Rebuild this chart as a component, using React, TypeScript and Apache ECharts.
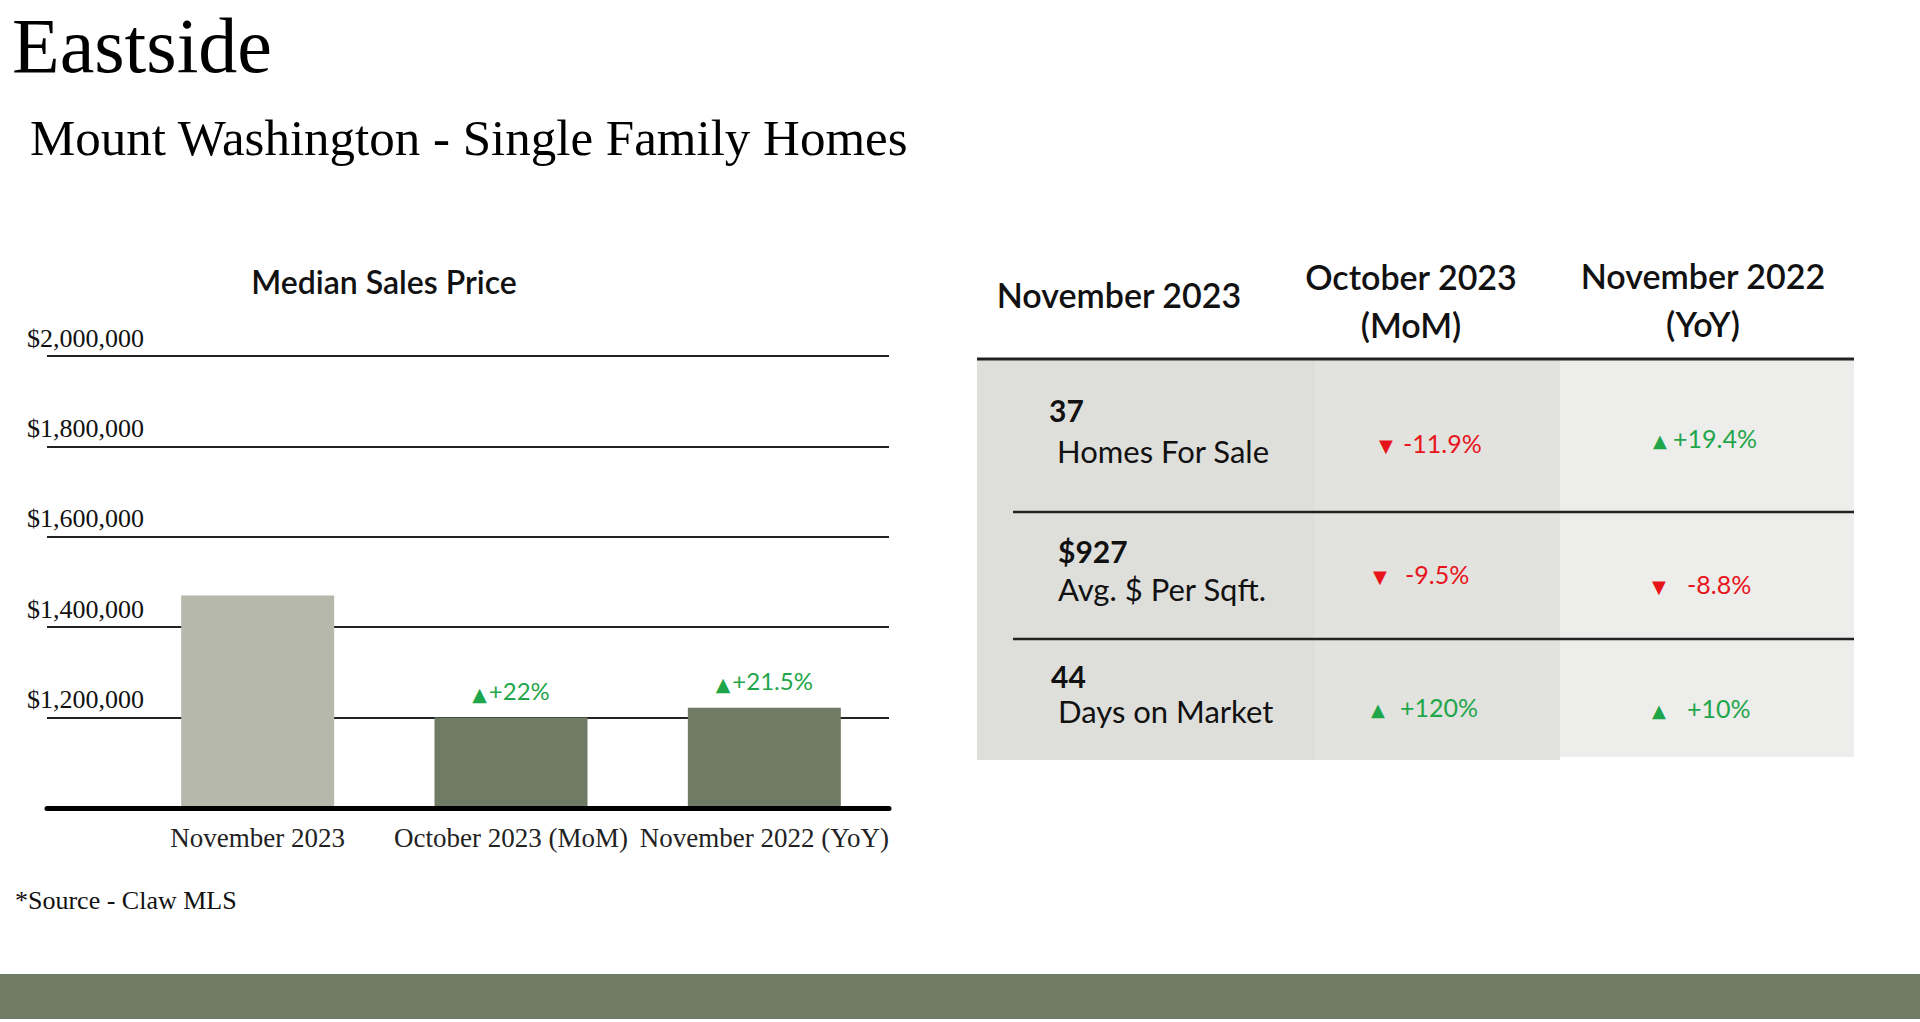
import React, { useEffect, useRef } from 'react';
import * as echarts from 'echarts';

// ---------- data ----------
const pageTitle = 'Eastside';
const subTitle = 'Mount Washington - Single Family Homes';
const chartTitle = 'Median Sales Price';
const sourceNote = '*Source - Claw MLS';

const priceCategories = ['November 2023', 'October 2023 (MoM)', 'November 2022 (YoY)'];
const medianPrices = [1470000, 1200000, 1222000];
const priceChanges = ['', '+22%', '+21.5%'];
const yMin = 1000000;
const yMax = 2000000;
const yStep = 200000;

const tableHeaders = ['November 2023', 'October 2023\n(MoM)', 'November 2022\n(YoY)'];
const metricValues = ['37', '$927', '44'];
const metricNames = ['Homes For Sale', 'Avg. $ Per Sqft.', 'Days on Market'];
const momChanges = ['-11.9%', '-9.5%', '+120%'];
const yoyChanges = ['+19.4%', '-8.8%', '+10%'];

// ---------- style / layout ----------
const SERIF = "'Liberation Serif', 'DejaVu Serif', serif";
const SANS = "Lato, 'Noto Sans', sans-serif";
const SYM = "'DejaVu Sans', sans-serif";
const GREEN = '#1fa64a';
const RED = '#e8141c';
const BAR_LIGHT = '#b5b8ab';
const BAR_DARK = '#6f7b64';
const BAND = '#6f7b64';

// table layout
const colX = [977, 1315, 1560, 1854];
const colFill = ['#dedfdb', '#e2e3df', '#ededeb'];
const tableTop = 359;
const tableBottom = 760;
const rowLines = [512, 639];
const headerCenters = [1119, 1411, 1703];
const headerY = [294, 300, 299];
const valuePos = [[1049, 410], [1058, 551], [1051, 676]];
const namePos = [[1057, 451], [1058, 589], [1058, 711]];
const momPos = [[1386, 1403, 443], [1380, 1405, 574], [1378, 1400, 707]];
const yoyPos = [[1660, 1673, 438], [1659, 1687, 584], [1659, 1687, 708]];

function changeCell(change: string, pos: number[]) {
  const down = change.trim().startsWith('-');
  const color = down ? RED : GREEN;
  return [
    {
      type: 'text',
      x: pos[0],
      y: pos[2] + 2,
      style: {
        text: down ? '▼' : '▲',
        fill: color,
        fontFamily: SYM,
        fontSize: 18,
        align: 'center',
        verticalAlign: 'middle',
      },
    },
    {
      type: 'text',
      x: pos[1],
      y: pos[2],
      style: {
        text: change,
        fill: color,
        fontFamily: SANS,
        fontSize: 25,
        align: 'left',
        verticalAlign: 'middle',
      },
    },
  ];
}

export default function App() {
  const ref = useRef<HTMLDivElement>(null);

  useEffect(() => {
    document.body.style.margin = '0';
    const chart = echarts.init(ref.current!, undefined, { renderer: 'svg' });

    const graphics: any[] = [];
    // table backgrounds
    for (let i = 0; i < 3; i++) {
      graphics.push({
        type: 'rect',
        z: 0,
        shape: { x: colX[i], y: tableTop, width: colX[i + 1] - colX[i], height: (i === 2 ? tableBottom - 3 : tableBottom) - tableTop },
        style: { fill: colFill[i] },
      });
    }
    graphics.push({
      type: 'line',
      shape: { x1: colX[0], y1: tableTop, x2: colX[3], y2: tableTop },
      style: { stroke: '#222', lineWidth: 3 },
    });
    rowLines.forEach((y) =>
      graphics.push({
        type: 'line',
        shape: { x1: 1013, y1: y, x2: colX[3], y2: y },
        style: { stroke: '#222', lineWidth: 2.5 },
      })
    );
    tableHeaders.forEach((h, i) =>
      graphics.push({
        type: 'text',
        x: headerCenters[i],
        y: headerY[i],
        style: {
          text: h,
          fill: '#111',
          fontFamily: SANS,
          fontWeight: 600,
          fontSize: 34,
          lineHeight: 48,
          align: 'center',
          verticalAlign: 'middle',
        },
      })
    );
    metricValues.forEach((v, i) => {
      graphics.push({
        type: 'text',
        x: valuePos[i][0],
        y: valuePos[i][1],
        style: { text: v, fill: '#111', fontFamily: SANS, fontWeight: 'bold', fontSize: 30, align: 'left', verticalAlign: 'middle' },
      });
      graphics.push({
        type: 'text',
        x: namePos[i][0],
        y: namePos[i][1],
        style: { text: metricNames[i], fill: '#111', fontFamily: SANS, fontSize: 31, align: 'left', verticalAlign: 'middle' },
      });
      graphics.push(...changeCell(momChanges[i], momPos[i]));
      graphics.push(...changeCell(yoyChanges[i], yoyPos[i]));
    });

    // titles
    graphics.push({
      type: 'text',
      x: 12,
      y: 45,
      style: { text: pageTitle, fill: '#000', fontFamily: SERIF, fontSize: 78, lineHeight: 80, align: 'left', verticalAlign: 'middle' },
    });
    graphics.push({
      type: 'text',
      x: 30,
      y: 138,
      style: { text: subTitle, fill: '#000', fontFamily: SERIF, fontSize: 51, align: 'left', verticalAlign: 'middle' },
    });
    graphics.push({
      type: 'text',
      x: 384,
      y: 281,
      style: { text: chartTitle, fill: '#111', fontFamily: SANS, fontWeight: 600, fontSize: 32, align: 'center', verticalAlign: 'middle' },
    });
    graphics.push({
      type: 'text',
      x: 15,
      y: 900,
      style: { text: sourceNote, fill: '#111', fontFamily: SERIF, fontSize: 26, align: 'left', verticalAlign: 'middle' },
    });
    // bottom band
    graphics.push({
      type: 'rect',
      shape: { x: 0, y: 974, width: 1920, height: 45 },
      style: { fill: BAND },
    });

    const option: any = {
      animation: false,
      backgroundColor: '#ffffff',
      grid: [
        { left: 47, top: 356, width: 842, height: 452 },
        { left: 131, top: 356, width: 760, height: 452 },
      ],
      xAxis: [
        {
          type: 'category',
          gridIndex: 0,
          data: priceCategories,
          axisLine: { show: true, lineStyle: { color: '#000', width: 5 } },
          axisTick: { show: false },
          axisLabel: { show: false },
          splitLine: { show: false },
          z: 5,
        },
        {
          type: 'category',
          gridIndex: 1,
          data: priceCategories,
          axisLine: { show: false },
          axisTick: { show: false },
          axisLabel: { interval: 0, margin: 16, fontFamily: SERIF, fontSize: 27, color: '#222' },
        },
      ],
      yAxis: [
        {
          type: 'value',
          gridIndex: 0,
          min: yMin,
          max: yMax,
          interval: yStep,
          axisLine: { show: false },
          axisTick: { show: false },
          splitLine: { show: true, lineStyle: { color: '#222', width: 2 } },
          axisLabel: {
            formatter: (v: number) => (v === yMin ? '' : '$' + v.toLocaleString('en-US')),
            align: 'left',
            verticalAlign: 'bottom',
            margin: 20,
            padding: [0, 0, 5, 0],
            fontFamily: SERIF,
            fontSize: 26,
            color: '#111',
          },
        },
        {
          type: 'value',
          gridIndex: 1,
          min: yMin,
          max: yMax,
          interval: yStep,
          show: false,
          splitLine: { show: false },
        },
      ],
      series: [
        {
          type: 'bar',
          xAxisIndex: 1,
          yAxisIndex: 1,
          barWidth: 153,
          z: 3,
          data: medianPrices.map((v, i) => ({ value: v, itemStyle: { color: i === 0 ? BAR_LIGHT : BAR_DARK } })),
          label: {
            show: true,
            position: 'top',
            distance: 14,
            formatter: (p: any) => {
              const c = priceChanges[p.dataIndex];
              if (!c) return '';
              return (c.startsWith('-') ? '{d|▼}' : '{u|▲}') + '{v|' + c + '}';
            },
            rich: {
              u: { fontFamily: SYM, fontSize: 19, color: GREEN, padding: [8, 2, 0, 0] },
              d: { fontFamily: SYM, fontSize: 19, color: RED, padding: [8, 2, 0, 0] },
              v: { fontFamily: SANS, fontSize: 24, color: GREEN },
            },
          },
        },
      ],
      graphic: graphics,
    };

    chart.setOption(option);
    return () => chart.dispose();
  }, []);

  return <div ref={ref} style={{ position: 'fixed', left: 0, top: 0, width: 1920, height: 1022 }} />;
}
